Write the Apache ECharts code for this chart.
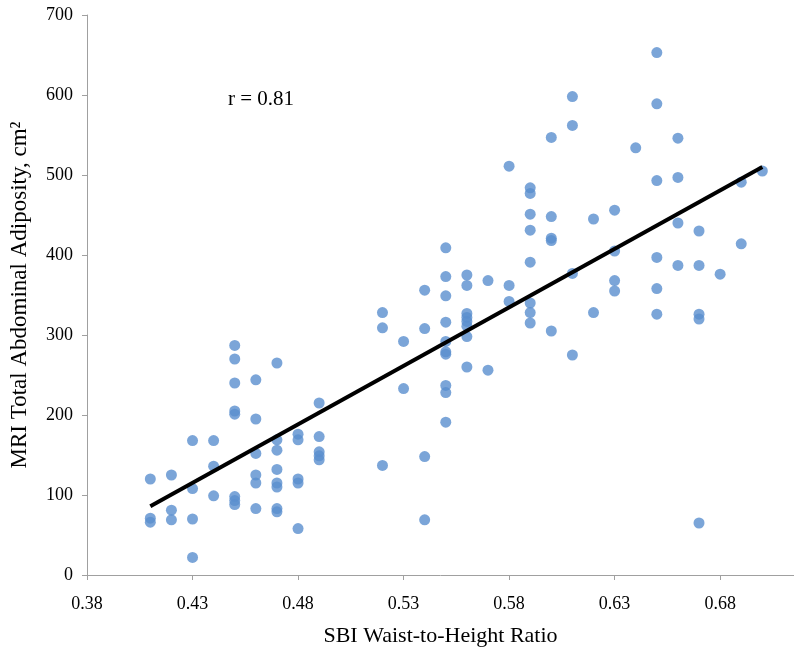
<!DOCTYPE html>
<html>
<head>
<meta charset="utf-8">
<script src="https://cdn.jsdelivr.net/npm/echarts@6/dist/echarts.min.js"></script>
<style>html,body{margin:0;padding:0;background:#fff}#c{width:794px;height:661px}</style>
</head>
<body>
<div id="c"></div>
<script>
// x = waist-to-height ratio, y = MRI total abdominal adiposity (cm²)
const ratio041 = [120, 71, 66];
const ratio042 = [125, 81, 69];
const ratio043 = [168, 108, 70, 22];
const ratio044 = [168, 136, 99];
const ratio045 = [287, 270, 240, 205, 201, 98, 93, 88];
const ratio046 = [244, 195, 152, 125, 115, 83];
const ratio047 = [265, 169, 156, 132, 115, 110, 83, 79];
const ratio048 = [176, 169, 120, 115, 58];
const ratio049 = [215, 173, 154, 149, 144];
const ratio052 = [328, 309, 137];
const ratio053 = [292, 233];
const ratio054 = [356, 308, 148, 69];
const ratio055 = [409, 373, 349, 316, 292, 279, 276, 237, 228, 191];
const ratio056 = [375, 362, 327, 322, 317, 311, 298, 260];
const ratio057 = [368, 256];
const ratio058 = [511, 362, 342];
const ratio059 = [484, 477, 451, 431, 391, 340, 328, 315];
const ratio060 = [547, 448, 421, 418, 305];
const ratio061 = [598, 562, 377, 275];
const ratio062 = [445, 328];
const ratio063 = [456, 405, 368, 355];
const ratio064 = [534];
const ratio065 = [653, 589, 493, 397, 358, 326];
const ratio066 = [546, 497, 440, 387];
const ratio067 = [430, 387, 326, 320, 65];
const ratio068 = [376];
const ratio069 = [491, 414];
const ratio070 = [505];

const groups = [
  [0.41, ratio041], [0.42, ratio042], [0.43, ratio043], [0.44, ratio044],
  [0.45, ratio045], [0.46, ratio046], [0.47, ratio047], [0.48, ratio048],
  [0.49, ratio049], [0.52, ratio052], [0.53, ratio053], [0.54, ratio054],
  [0.55, ratio055], [0.56, ratio056], [0.57, ratio057], [0.58, ratio058],
  [0.59, ratio059], [0.60, ratio060], [0.61, ratio061], [0.62, ratio062],
  [0.63, ratio063], [0.64, ratio064], [0.65, ratio065], [0.66, ratio066],
  [0.67, ratio067], [0.68, ratio068], [0.69, ratio069], [0.70, ratio070]
];

const trendX = [0.41, 0.70];
const trendY = [86, 510];

const xTicks = [0.38, 0.43, 0.48, 0.53, 0.58, 0.63, 0.68];
const yTicks = [0, 100, 200, 300, 400, 500, 600, 700];

const points = [];
groups.forEach(([x, ys]) => ys.forEach(y => points.push([x, y])));
const trend = trendX.map((x, i) => [x, trendY[i]]);

const serif = '"Liberation Serif", "DejaVu Serif", serif';
const chart = echarts.init(document.getElementById('c'));
chart.setOption({
  animation: false,
  backgroundColor: '#fff',
  grid: { left: 87, right: 0, top: 15, bottom: 86, containLabel: false, outerBoundsMode: 'none' },
  title: {
    text: 'r = 0.81', left: 223, top: 84,
    textStyle: { fontFamily: serif, fontSize: 21, fontWeight: 'normal', color: '#000' }
  },
  xAxis: {
    type: 'value', min: 0.38, max: 0.715,
    name: 'SBI Waist-to-Height Ratio', nameLocation: 'middle', nameGap: 50,
    nameTextStyle: { fontFamily: serif, fontSize: 22, color: '#000' },
    axisLine: { show: true, lineStyle: { color: '#a0a0a0', width: 1 } },
    axisTick: { show: true, length: 5, customValues: xTicks, lineStyle: { color: '#a0a0a0' } },
    axisLabel: { customValues: xTicks, fontFamily: serif, fontSize: 18, color: '#000', margin: 20,
      formatter: v => v.toFixed(2) },
    splitLine: { show: false }
  },
  yAxis: {
    type: 'value', min: 0, max: 700, interval: 100,
    name: 'MRI Total Abdominal Adiposity, cm²', nameLocation: 'middle', nameGap: 56,
    nameTextStyle: { fontFamily: serif, fontSize: 23, color: '#000' },
    axisLine: { show: true, lineStyle: { color: '#a0a0a0', width: 1 } },
    axisTick: { show: true, length: 5, customValues: yTicks, lineStyle: { color: '#a0a0a0' } },
    axisLabel: { customValues: yTicks, fontFamily: serif, fontSize: 18, color: '#000', margin: 14 },
    splitLine: { show: false }
  },
  series: [
    {
      type: 'scatter', data: points, symbol: 'circle', symbolSize: 11,
      itemStyle: { color: '#5a8fce' }, z: 2
    },
    {
      type: 'line', data: trend, symbol: 'none',
      lineStyle: { color: '#000', width: 4 }, z: 3
    }
  ]
});
</script>
</body>
</html>
